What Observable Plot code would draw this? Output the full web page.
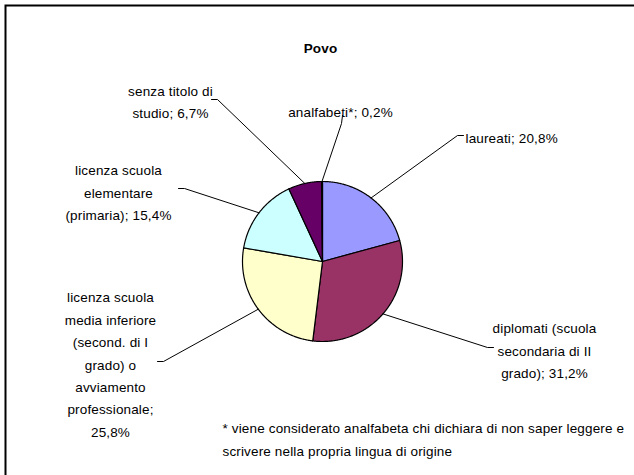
<!DOCTYPE html>
<html><head><meta charset="utf-8">
<script src="https://cdn.jsdelivr.net/npm/d3@7"></script>
<script src="https://cdn.jsdelivr.net/npm/@observablehq/plot@0.6"></script>
<style>body{margin:0;background:#fff}</style>
</head><body><div id="chart"></div>
<script>
const title = "Povo";
const categories = ["laureati", "diplomati (scuola secondaria di II grado)", "licenza scuola media inferiore (second. di I grado) o avviamento professionale", "licenza scuola elementare (primaria)", "senza titolo di studio", "analfabeti*"];
const values = [20.8, 31.2, 25.8, 15.4, 6.7, 0.2];
const labelTexts = ["laureati; 20,8%", "diplomati (scuola\nsecondaria di II\ngrado); 31,2%", "licenza scuola\nmedia inferiore\n(second. di I\ngrado) o\navviamento\nprofessionale;\n25,8%", "licenza scuola\nelementare\n(primaria); 15,4%", "senza titolo di\nstudio; 6,7%", "analfabeti*; 0,2%"];
const footnote = "* viene considerato analfabeta chi dichiara di non saper leggere e\nscrivere nella propria lingua di origine";
const colors = ["#9999FF", "#993366", "#FFFFCC", "#CCFFFF", "#660066", "#FF8080"];

// layout, in pie-radius units with the origin at the pie centre
const cx = 322, cy = 261, r = 80;
const labelPos = [
  {x: 1.7875, y: 1.575, anchor: "start"},
  {x: 2.775, y: -1.0875, anchor: "middle"},
  {x: -2.65, y: -1.2625, anchor: "middle"},
  {x: -2.55, y: 0.8875, anchor: "middle"},
  {x: -1.9, y: 2.019, anchor: "middle"},
  {x: 0.225, y: 1.9, anchor: "middle"}
];
const leaderAnchors = [
  [[1.7625, 1.575], [1.6875, 1.575]],
  [[2.1375, -1.075], [2.0625, -1.075]],
  [[-2.0625, -1.25], [-1.9875, -1.25]],
  [[-1.8, 0.9125], [-1.725, 0.9125]],
  [[-1.3875, 2.025], [-1.3125, 2.025]],
  [[0.25, 1.825], [0.2375, 1.725]]
];
const titlePos = {x: -0.025, y: 2.6625};
const footPos = {x: -1.25, y: -2.194};

const arcs = d3.pie().sort(null)(values);
const marks = [];
marks.push(Plot.frame({stroke: "#000", strokeWidth: 2, insetLeft: 5, insetTop: 5, insetRight: -20, insetBottom: -20}));

arcs.forEach((a, i) => {
  const pts = [{x: 0, y: 0}];
  const n = Math.max(2, Math.ceil((a.endAngle - a.startAngle) / 0.01));
  for (let k = 0; k <= n; k++) {
    const t = a.startAngle + (a.endAngle - a.startAngle) * k / n;
    pts.push({x: Math.sin(t), y: Math.cos(t)});
  }
  pts.push({x: 0, y: 0});
  marks.push(Plot.line(pts, {x: "x", y: "y", fill: colors[i], stroke: "#000", strokeWidth: 1.2, strokeLinejoin: "round", curve: "linear"}));
});

arcs.forEach((a, i) => {
  const m = (a.startAngle + a.endAngle) / 2;
  const pts = leaderAnchors[i].map(([x, y]) => ({x, y}));
  pts.push({x: Math.sin(m), y: Math.cos(m)});
  marks.push(Plot.line(pts, {x: "x", y: "y", stroke: "#000", strokeWidth: 1}));
  marks.push(Plot.text([labelTexts[i]], {x: labelPos[i].x, y: labelPos[i].y, text: d => d, textAnchor: labelPos[i].anchor, lineHeight: 1.66, fontSize: 13.5, fill: "#000"}));
});

marks.push(Plot.text([title], {x: titlePos.x, y: titlePos.y, text: d => d, fontWeight: "bold", fontSize: 13.5, fill: "#000"}));
marks.push(Plot.text([footnote], {x: footPos.x, y: footPos.y, text: d => d, textAnchor: "start", lineHeight: 1.7, fontSize: 13.5, fill: "#000"}));

const chart = Plot.plot({
  width: 634, height: 475, margin: 0,
  x: {domain: [-1, 1], range: [cx - r, cx + r], axis: null},
  y: {domain: [-1, 1], range: [cy + r, cy - r], axis: null},
  style: {fontFamily: "'Liberation Sans', Arial, sans-serif", fontSize: "13.5px", letterSpacing: "0.15px", background: "#fff", color: "#000"},
  marks
});
document.getElementById("chart").appendChild(chart);
</script>
</body></html>
